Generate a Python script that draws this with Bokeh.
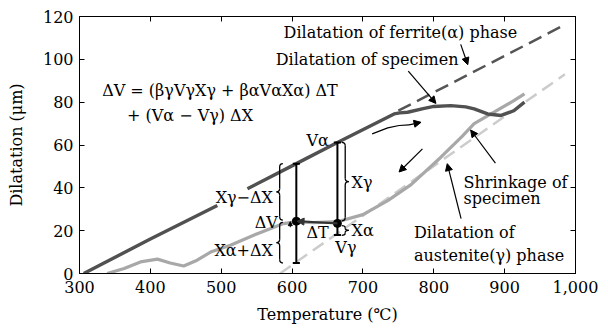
from bokeh.plotting import figure
from bokeh.models import Range1d, FixedTicker, LinearAxis, NumeralTickFormatter, Arrow, NormalHead
from bokeh.core.properties import value
from bokeh.embed import file_html
from bokeh.resources import INLINE

# Dilatation curve of the specimen on heating (dark) and cooling (gray), in °C and µm
heat_T = [306, 400, 494.5, float("nan"), 537, 606, 664, 744, 752, 763, 785, 800, 824, 845, 857, 876, 895, 913, 928]
heat_dl = [0, 16.1, 31.8, float("nan"), 39.6, 51.3, 61.2, 74.5, 75.0, 75.3, 77.0, 78.0, 78.4, 77.8, 76.9, 74.5, 73.8, 76.0, 80.0]

cool_T = [339, 363, 386, 410, 428, 447, 466, 485, 513, 551, 588, 606, 630, 664, 700, 735, 768, 810, 840, 857, 885, 913, 928]
cool_dl = [0, 2.3, 5.4, 6.7, 4.9, 3.5, 6.2, 10.0, 13.2, 18.6, 23.3, 24.2, 23.8, 24.2, 27.5, 34.0, 41.5, 54.3, 64.0, 70.0, 75.3, 80.7, 83.9]

# Extrapolated single-phase dilatation lines
ferrite_T = [750, 980]
ferrite_dl = [76.0, 115.3]
austenite_T = [583, 985]
austenite_dl = [0, 93.0]

# Lever-rule construction at two temperatures
bar_T = [606, 664]
bar_top = [51.3, 61.2]
bar_bottom = [4.9, 18.0]
dot_T = [606, 664]
dot_dl = [24.4, 23.4]

x_ticks = [300, 400, 500, 600, 700, 800, 900, 1000]
y_ticks = [0, 20, 40, 60, 80, 100, 120]

FAMILY = "DejaVu Serif"
FONT = value(FAMILY)
TXT = "16px"

p = figure(width=608, height=333, x_range=Range1d(300, 1000), y_range=Range1d(0, 120),
           output_backend="svg", toolbar_location=None,
           min_border_left=79, min_border_right=33, min_border_top=16, min_border_bottom=60)
p.grid.visible = False
p.outline_line_color = "black"
p.outline_line_width = 1
p.background_fill_color = "white"
p.border_fill_color = "white"

def style_axis(ax, labels=True):
    ax.axis_line_color = "black"
    ax.major_tick_line_color = "black"
    ax.major_tick_in = 5
    ax.major_tick_out = 0
    ax.minor_tick_line_color = None
    ax.major_label_text_font = FAMILY
    ax.major_label_text_font_size = "16px" if labels else "0px"
    ax.major_label_text_color = "black"
    ax.axis_label_text_font = FAMILY
    ax.axis_label_text_font_size = TXT
    ax.axis_label_text_font_style = "normal"
    ax.axis_label_text_color = "black"

p.xaxis.ticker = FixedTicker(ticks=x_ticks)
p.yaxis.ticker = FixedTicker(ticks=y_ticks)
p.xaxis.formatter = NumeralTickFormatter(format="0,0")
style_axis(p.xaxis[0])
style_axis(p.yaxis[0])
p.xaxis.axis_label = "Temperature (℃)"
p.yaxis.axis_label = "Dilatation (μm)"
p.xaxis.major_label_standoff = 7
p.xaxis.axis_label_standoff = 9
p.yaxis.major_label_standoff = 6
p.yaxis.axis_label_standoff = 14

top_ax = LinearAxis(ticker=FixedTicker(ticks=x_ticks))
right_ax = LinearAxis(ticker=FixedTicker(ticks=y_ticks))
style_axis(top_ax, labels=False)
style_axis(right_ax, labels=False)
top_ax.major_label_standoff = 0
right_ax.major_label_standoff = 0
p.add_layout(top_ax, "above")
p.add_layout(right_ax, "right")

# Reference lines
p.line(ferrite_T, ferrite_dl, line_color="#555555", line_width=2.5, line_dash="14 7")
p.line(austenite_T, austenite_dl, line_color="#cccccc", line_width=2.5, line_dash="13 7")

# Measured curves
p.line(cool_T, cool_dl, line_color="#a8a8a8", line_width=3.2)
p.line(heat_T, heat_dl, line_color="#515151", line_width=3.4)

# Vertical bars between the two phase lines, with caps
p.segment(x0=bar_T, y0=bar_bottom, x1=bar_T, y1=bar_top, line_color="black", line_width=2)
cap = 5.0
p.segment(x0=[t - cap for t in bar_T], y0=bar_top, x1=[t + cap for t in bar_T], y1=bar_top,
          line_color="black", line_width=2)
p.segment(x0=[t - cap for t in bar_T], y0=bar_bottom, x1=[t + cap for t in bar_T], y1=bar_bottom,
          line_color="black", line_width=2)

# Temperature step between the two states
p.add_layout(Arrow(end=NormalHead(size=7, fill_color="#333333", line_color="#333333"),
                   x_start=dot_T[1], y_start=dot_dl[1], x_end=dot_T[0] + 1, y_end=dot_dl[0],
                   line_color="#333333", line_width=2.2))
p.scatter(dot_T, dot_dl, size=8, fill_color="black", line_color="black")
p.add_layout(Arrow(end=NormalHead(size=4, fill_color="black", line_color="black"),
                   x_start=597.5, y_start=21.6, x_end=597.5, y_end=24.2,
                   line_color="black", line_width=1))


def brace(xe, xt, y0, y1, r=1.6):
    """Curly brace from y0 to y1; ends at xe, tip pointing to xt."""
    xm = (xe + xt) / 2.0
    ym = (y0 + y1) / 2.0
    kw = dict(line_color="black", line_width=1.3)
    p.quadratic(x0=[xe, xm, xe, xm], y0=[y1, ym + r, y0, ym - r],
                x1=[xm, xt, xm, xt], y1=[y1 - r, ym, y0 + r, ym],
                cx=[xm, xm, xm, xm], cy=[y1, ym, y0, ym], **kw)
    p.segment(x0=[xm, xm], y0=[y1 - r, y0 + r], x1=[xm, xm], y1=[ym + r, ym - r], **kw)


brace(587, 578, dot_dl[0] + 0.5, bar_top[0])
brace(587, 578, bar_bottom[0], dot_dl[0] - 0.5)
brace(670, 680, dot_dl[1] + 1.2, bar_top[1])
brace(670, 680, bar_bottom[1] - 0.2, dot_dl[1] - 1.0, r=1.0)

# Direction of heating and cooling
curve_T = [713, 735, 751, 765, 782]
curve_dl = [65.2, 68.0, 69.1, 69.4, 70.6]
p.line(curve_T[:-1], curve_dl[:-1], line_color="black", line_width=1.2)
p.add_layout(Arrow(end=NormalHead(size=7, fill_color="black", line_color="black"),
                   x_start=curve_T[-2], y_start=curve_dl[-2], x_end=curve_T[-1], y_end=curve_dl[-1],
                   line_color="black", line_width=1.2))
p.add_layout(Arrow(end=NormalHead(size=7, fill_color="black", line_color="black"),
                   x_start=784, y_start=58.2, x_end=751, y_end=47.4,
                   line_color="black", line_width=1.2))

# Pointers from the captions
for xs, ys, xe, ye in [(838, 107.0, 848, 97.5),
                       (764, 94.5, 803, 79.4),
                       (887, 51.5, 852, 67.0),
                       (838.5, 25.6, 819, 51.3)]:
    p.add_layout(Arrow(end=NormalHead(size=7, fill_color="black", line_color="black"),
                       x_start=xs, y_start=ys, x_end=xe, y_end=ye,
                       line_color="black", line_width=1.2))


def put(x, y, s, align="left"):
    p.text(x=[x], y=[y], text=[s], text_font=FONT, text_font_size=TXT,
           text_align=align, text_baseline="middle", text_color="black")


put(588, 112.5, "Dilatation of ferrite(α) phase")
put(577, 100.0, "Dilatation of specimen")
put(332, 85.4, "ΔV = (βγVγXγ + βαVαXα) ΔT")
put(367, 73.8, "+ (Vα − Vγ) ΔX")
put(636, 62.3, "Vα", "center")
put(676, 12.3, "Vγ", "center")
put(636, 19.0, "ΔT", "center")
put(684, 20.2, "Xα")
put(684, 42.5, "Xγ")
put(573, 35.6, "Xγ−ΔX", "right")
put(580, 23.6, "ΔV", "right")
put(573, 10.9, "Xα+ΔX", "right")
put(842, 42.5, "Shrinkage of")
put(842, 35.0, "specimen")
put(772, 19.2, "Dilatation of")
put(772, 8.5, "austenite(γ) phase")

open("out.html", "w").write(file_html(p, INLINE))
